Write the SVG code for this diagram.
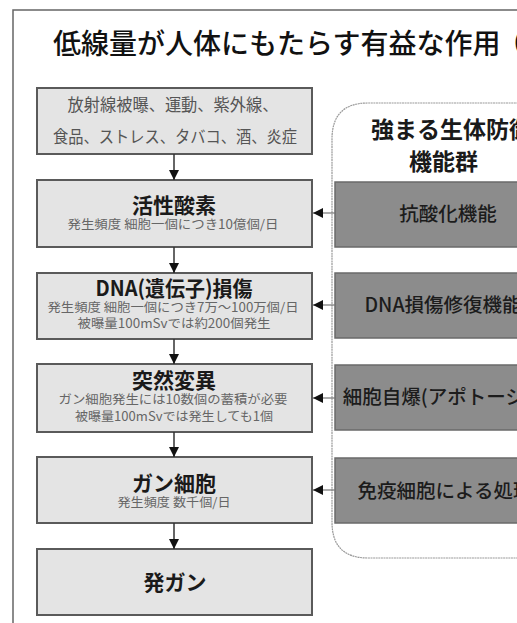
<svg xmlns="http://www.w3.org/2000/svg" width="517" height="623" viewBox="0 0 517 623">
<style>
text{font-family:"Noto Sans CJK JP","Noto Sans",sans-serif}
.title{font-size:28px;font-weight:500;fill:#111}
.lbox{fill:#e4e4e4;stroke:#5a5a5a;stroke-width:2}
.dbox{fill:#8c8c8c;stroke:#6a6a6a;stroke-width:1.5}
.main{font-size:21px;font-weight:700;fill:#1a1a1a;text-anchor:middle}
.sub{font-size:12.5px;fill:#666;text-anchor:middle}
.src{font-size:16.5px;fill:#555;text-anchor:middle}
.dtext{font-size:19.5px;font-weight:500;fill:#1c1c1c;text-anchor:middle}
.ctitle{font-size:23px;font-weight:700;fill:#1a1a1a}
.conn{stroke:#333;stroke-width:1.5;fill:none}
.hconn{stroke:#777;stroke-width:1.2;fill:none}
</style>
<defs>
<marker id="ah" viewBox="0 0 10 10" refX="10" refY="5" markerWidth="10" markerHeight="10" markerUnits="userSpaceOnUse" orient="auto">
<path d="M0,0 L10,5 L0,10 Z" fill="#111"/>
</marker>
</defs>
<rect width="517" height="623" fill="#fff"/>
<path d="M13,623 V10 H517" fill="none" stroke="#666" stroke-width="1.5"/>
<text class="title" x="53" y="54">低線量が人体にもたらす有益な作用<tspan dx="-4">（</tspan></text>

<g id="container">
<path d="M560,103 H368 Q332,103 332,139 V522 Q332,558 368,558 H560" fill="none" stroke="#999" stroke-width="1.2" stroke-dasharray="2 0.6"/>
<text class="ctitle" x="371" y="138">強まる生体防御</text>
<text class="ctitle" x="409" y="170">機能群</text>
</g>

<g id="n1"><rect class="lbox" x="37" y="88" width="275" height="66"/>
<text class="src" x="173" y="111" textLength="211" lengthAdjust="spacingAndGlyphs">放射線被曝、運動、紫外線、</text>
<text class="src" x="175" y="143" textLength="244" lengthAdjust="spacingAndGlyphs">食品、ストレス、タバコ、酒、炎症</text></g>

<g id="n2"><rect class="lbox" x="37" y="180" width="275" height="67"/>
<text class="main" x="174" y="213">活性酸素</text>
<text class="sub" x="173" y="229" textLength="211" lengthAdjust="spacingAndGlyphs">発生頻度 細胞一個につき10億個/日</text></g>

<g id="n3"><rect class="lbox" x="37" y="273" width="275" height="66"/>
<text class="main" x="174" y="296" font-weight="500" textLength="157" lengthAdjust="spacingAndGlyphs">DNA(遺伝子)損傷</text>
<text class="sub" x="173" y="312" textLength="251" lengthAdjust="spacingAndGlyphs">発生頻度 細胞一個につき7万～100万個/日</text>
<text class="sub" x="174" y="328" textLength="193" lengthAdjust="spacingAndGlyphs">被曝量100mSvでは約200個発生</text></g>

<g id="n4"><rect class="lbox" x="37" y="364" width="275" height="68"/>
<text class="main" x="174" y="388">突然変異</text>
<text class="sub" x="173" y="404" textLength="229" lengthAdjust="spacingAndGlyphs">ガン細胞発生には10数個の蓄積が必要</text>
<text class="sub" x="174" y="421" textLength="198" lengthAdjust="spacingAndGlyphs">被曝量100mSvでは発生しても1個</text></g>

<g id="n5"><rect class="lbox" x="37" y="457" width="275" height="66"/>
<text class="main" x="174" y="491">ガン細胞</text>
<text class="sub" x="174" y="507" textLength="113" lengthAdjust="spacingAndGlyphs">発生頻度 数千個/日</text></g>

<g id="n6"><rect class="lbox" x="37" y="549" width="275" height="66"/>
<text class="main" x="175" y="590" font-weight="500" font-size="20">発ガン</text></g>

<g id="d1"><rect class="dbox" x="335" y="182" width="230" height="65"/>
<text class="dtext" x="448" y="221">抗酸化機能</text></g>
<g id="d2"><rect class="dbox" x="335" y="273" width="230" height="65"/>
<text class="dtext" x="443" y="312">DNA損傷修復機能</text></g>
<g id="d3"><rect class="dbox" x="335" y="365" width="230" height="65"/>
<text class="dtext" x="447" y="404">細胞自爆(アポトーシス)</text></g>
<g id="d4"><rect class="dbox" x="335" y="458" width="230" height="65"/>
<text class="dtext" x="445" y="498">免疫細胞による処理</text></g>

<g id="connectors">
<line class="conn" x1="174" y1="154" x2="174" y2="180" marker-end="url(#ah)"/>
<line class="conn" x1="174" y1="247" x2="174" y2="273" marker-end="url(#ah)"/>
<line class="conn" x1="174" y1="339" x2="174" y2="364" marker-end="url(#ah)"/>
<line class="conn" x1="174" y1="432" x2="174" y2="457" marker-end="url(#ah)"/>
<line class="conn" x1="174" y1="523" x2="174" y2="549" marker-end="url(#ah)"/>
<line class="hconn" x1="335" y1="213" x2="313" y2="213" marker-end="url(#ah)"/>
<line class="hconn" x1="335" y1="305" x2="313" y2="305" marker-end="url(#ah)"/>
<line class="hconn" x1="335" y1="398" x2="313" y2="398" marker-end="url(#ah)"/>
<line class="hconn" x1="335" y1="490" x2="313" y2="490" marker-end="url(#ah)"/>
</g>
</svg>
